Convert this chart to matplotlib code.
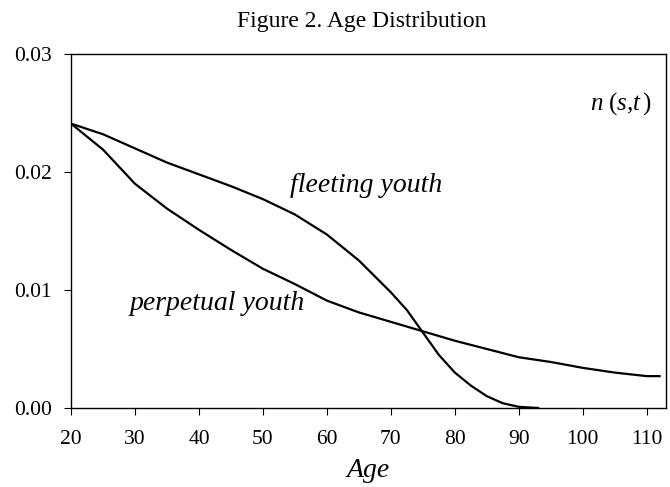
import matplotlib
matplotlib.use("Agg")
import matplotlib.pyplot as plt

ages_perpetual = [20, 25, 30, 35, 40, 45, 50, 55, 60, 65, 70, 75, 80, 85, 90, 95, 100, 105, 110, 112]
n_perpetual = [0.0241, 0.0219, 0.0190, 0.0169, 0.0151, 0.0134, 0.0118, 0.0105, 0.0091, 0.0081,
               0.0073, 0.0065, 0.0057, 0.0050, 0.0043, 0.0039, 0.0034, 0.0030, 0.0027, 0.0027]

ages_fleeting = [20, 25, 27.5, 30, 35, 40, 45, 50, 55, 60, 65, 70, 72.5, 75, 77.5, 80, 82.5, 85, 87.5, 90, 93]
n_fleeting = [0.0241, 0.0232, 0.0226, 0.0220, 0.0208, 0.0198, 0.0188, 0.0177, 0.0164, 0.0147,
              0.0125, 0.0098, 0.0083, 0.0064, 0.0045, 0.0030, 0.0019, 0.0010, 0.0004, 0.0001, 0.0]

x_ticks = [20, 30, 40, 50, 60, 70, 80, 90, 100, 110]
y_ticks = [0.00, 0.01, 0.02, 0.03]
y_tick_labels = ["0.00", "0.01", "0.02", "0.03"]

plt.rcParams['font.family'] = ['Liberation Serif', 'DejaVu Serif']
plt.rcParams['mathtext.fontset'] = 'custom'
plt.rcParams['mathtext.rm'] = 'Liberation Serif'
plt.rcParams['mathtext.it'] = 'Liberation Serif:italic'

fig = plt.figure(figsize=(6.7, 4.87), dpi=100)
ax = fig.add_axes([71/670, 1 - 408/487, (666 - 71)/670, (408 - 54)/487])

ax.plot(ages_perpetual, n_perpetual, color='black', lw=1.6)
ax.plot(ages_fleeting, n_fleeting, color='black', lw=1.6)

ax.set_xlim(20, 113)
ax.set_ylim(0, 0.03)
ax.set_xticks(x_ticks)
ax.set_yticks(y_ticks)
ax.set_yticklabels(y_tick_labels)
ax.tick_params(axis='both', direction='out', length=5, width=0.8, labelsize=15.5)
ax.tick_params(axis='x', pad=11)
ax.tick_params(axis='y', pad=9)
for s in ax.spines.values():
    s.set_linewidth(1.0)

ax.text(66.1, 0.0183, "fleeting youth", style='italic', fontsize=20, ha='center', va='baseline')
ax.text(42.9, 0.0083, "perpetual youth", style='italic', fontsize=20, ha='center', va='baseline')
ax.text(106, 0.0258, r"$n\ \mathrm{(}s\mathrm{,}t\,\mathrm{)}$", fontsize=18, ha='center', va='center')

fig.text(362/670, 1 - 22/487, "Figure 2. Age Distribution", fontsize=17, ha='center', va='center')
ax.set_xlabel("Age", style='italic', fontsize=20, labelpad=6)

fig.savefig("out.png", dpi=100)
